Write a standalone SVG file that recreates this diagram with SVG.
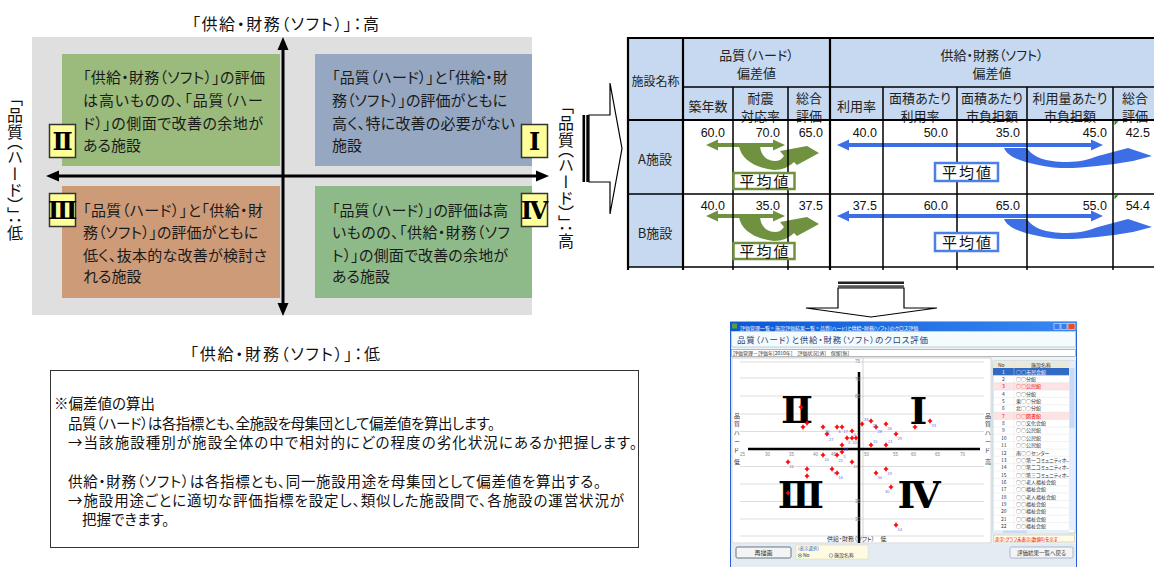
<svg xmlns="http://www.w3.org/2000/svg" width="1154" height="567" viewBox="0 0 1154 567">
<defs>
<style>
.jp{font-family:"Noto Sans CJK JP","Noto Sans CJK SC",sans-serif;font-feature-settings:"palt" 1;}
.q{font-size:15px;fill:#1a1a1a;}
.lbl{font-size:16px;fill:#111;}
.vert{writing-mode:vertical-rl;font-feature-settings:"vpal" 1;}
.rn{font-family:"DejaVu Serif","Liberation Serif",serif;font-weight:bold;fill:#000;text-anchor:middle;}
.th{font-size:13px;fill:#222;text-anchor:middle;}
.th12{font-size:12px;fill:#222;text-anchor:middle;}
.num{font-family:"Liberation Sans",Arial,sans-serif;font-size:12.5px;fill:#111;text-anchor:end;}
.tl{stroke:#000;stroke-width:1.5;fill:none;}
.tk{stroke:#000;stroke-width:2.2;fill:none;}
.hdr{fill:#c6d9f0;}
.avg{font-size:15px;fill:#111;text-anchor:middle;letter-spacing:2px;}
.rnbox{fill:#ffff99;stroke:#333;stroke-width:1.5;}
.note{font-size:14.5px;fill:#111;}
.t5{font-size:5px;fill:#333;}
.t6{font-size:6px;fill:#333;}
.grid{stroke:#d4d4d4;stroke-width:0.8;}
.tick{font-family:"Liberation Sans",sans-serif;font-size:4.5px;fill:#888;}
.plab{font-family:"Liberation Sans",sans-serif;font-size:4px;fill:#6a6ae0;}
.li{font-size:5px;fill:#333;}
.outline{fill:#fff;stroke:#000;stroke-width:1.2;}
</style>
<linearGradient id="tb" x1="0" y1="0" x2="1" y2="0">
<stop offset="0" stop-color="#0a58d6"/><stop offset="1" stop-color="#3a88f2"/>
</linearGradient>
<path id="pt" d="M-2.2,-0.8h1.4v-1.4h1.6v1.4h1.4v1.6h-1.4v1.4h-1.6v-1.4h-1.4z" fill="#f00"/>
<path id="gcurve" d="M739,146 L760,146 C761,156 767,161 775,161 C779,161 782,159 784,156 L780,151 L807,146 L819,153 L797,165 L794,162 C789,167 782,170 774,170 C755,168 741,159 739,146 Z"/>
<path id="bcurve" d="M1004,148 L1027,148 C1033,157 1045,162 1067,162 C1080,162 1090,159 1098,156 L1128,148 L1152,156 L1133,161 C1120,163 1108,165 1097,166 C1080,168 1060,169 1050,167 C1025,163 1008,158 1004,148 Z"/>
</defs>

<rect width="1154" height="567" fill="#fff"/>

<!-- quadrant diagram -->
<g id="quadrant-bg"><rect x="32" y="37" width="500" height="278" fill="#dfdfdf"/></g>

<g id="q2">
<rect x="62" y="54" width="218" height="112" fill="#9bbb7d"/>
<text class="jp q" x="83" y="83" textLength="182">「供給・財務（ソフト）」の評価</text>
<text class="jp q" x="83" y="106" textLength="180">は高いものの、「品質（ハー</text>
<text class="jp q" x="83" y="129" textLength="180">ド）」の側面で改善の余地が</text>
<text class="jp q" x="83" y="151">ある施設</text>
</g>
<g id="q1">
<rect x="315" y="54" width="217" height="112" fill="#95a7c1"/>
<text class="jp q" x="332" y="83" textLength="176">「品質（ハード）」と「供給・財</text>
<text class="jp q" x="332" y="106" textLength="175">務（ソフト）」の評価がともに</text>
<text class="jp q" x="332" y="129" textLength="183">高く、特に改善の必要がない</text>
<text class="jp q" x="332" y="151">施設</text>
</g>
<g id="q3">
<rect x="62" y="186" width="218" height="112" fill="#cd9b78"/>
<text class="jp q" x="83" y="215.5" textLength="180">「品質（ハード）」と「供給・財</text>
<text class="jp q" x="83" y="238" textLength="175">務（ソフト）」の評価がともに</text>
<text class="jp q" x="83" y="260.5" textLength="184">低く、抜本的な改善が検討さ</text>
<text class="jp q" x="83" y="282">れる施設</text>
</g>
<g id="q4">
<rect x="315" y="186" width="217" height="112" fill="#8eb988"/>
<text class="jp q" x="332" y="215.5" textLength="176">「品質（ハード）」の評価は高</text>
<text class="jp q" x="332" y="238" textLength="178">いものの、「供給・財務（ソフ</text>
<text class="jp q" x="332" y="260.5" textLength="176">ト）」の側面で改善の余地が</text>
<text class="jp q" x="332" y="282">ある施設</text>
</g>

<g id="connectors">
<!-- axes -->
<line x1="283" y1="48" x2="283" y2="305" stroke="#000" stroke-width="3"/>
<polygon points="283,37 277.5,50 288.5,50" fill="#000"/>
<polygon points="283,316 277.5,303 288.5,303" fill="#000"/>
<line x1="58" y1="176" x2="537" y2="176" stroke="#000" stroke-width="3"/>
<polygon points="46,176 59,170.5 59,181.5" fill="#000"/>
<polygon points="549,176 536,170.5 536,181.5" fill="#000"/>
<!-- striped right arrow -->
<rect x="582.5" y="115" width="2.6" height="67" fill="#000"/>
<rect x="586.3" y="115" width="2.6" height="67" fill="#000"/>
<path class="outline" d="M589,115 H610 V83 L622,148.5 L610,214 V182 H589 Z"/>
<!-- striped down arrow -->
<rect x="838" y="281.5" width="66" height="2.5" fill="#222"/>
<rect x="838" y="285.2" width="66" height="2.3" fill="#555"/>
<path class="outline" d="M838,288 V308 H806 L871,317 L937,308 H904 V288 Z"/>
<!-- green (hard) arrows -->
<g id="green-arrows" fill="#70913f">
<line x1="716" y1="145" x2="775" y2="145" stroke="#70913f" stroke-width="4"/>
<polygon points="706,145 718,139.5 718,150.5"/>
<polygon points="785,145 773,139.5 773,150.5"/>
<use href="#gcurve"/>
<g transform="translate(0,71)">
<line x1="716" y1="145" x2="775" y2="145" stroke="#70913f" stroke-width="4"/>
<polygon points="706,145 718,139.5 718,150.5"/>
<polygon points="785,145 773,139.5 773,150.5"/>
<use href="#gcurve"/>
</g>
</g>
<!-- blue (soft) arrows -->
<g id="blue-arrows" fill="#3c6fe6">
<line x1="848" y1="145" x2="1092" y2="145" stroke="#3c6fe6" stroke-width="4"/>
<polygon points="837,145 849,139.5 849,150.5"/>
<polygon points="1103,145 1091,139.5 1091,150.5"/>
<use href="#bcurve"/>
<g transform="translate(0,71)">
<line x1="848" y1="145" x2="1092" y2="145" stroke="#3c6fe6" stroke-width="4"/>
<polygon points="837,145 849,139.5 849,150.5"/>
<polygon points="1103,145 1091,139.5 1091,150.5"/>
<use href="#bcurve"/>
</g>
</g>
</g>

<g id="roman-labels">
<rect class="rnbox" x="49.5" y="124.5" width="26" height="33"/>
<text class="rn" x="62.5" y="149.5" font-size="24">Ⅱ</text>
<rect class="rnbox" x="49.5" y="193.5" width="26" height="33"/>
<text class="rn" x="62.5" y="218.5" font-size="24">Ⅲ</text>
<rect class="rnbox" x="521.5" y="124.5" width="26" height="33"/>
<text class="rn" x="534.5" y="149.5" font-size="24">Ⅰ</text>
<rect class="rnbox" x="521.5" y="193.5" width="26" height="33"/>
<text class="rn" x="534.5" y="218.5" font-size="24">Ⅳ</text>
</g>

<g id="axis-labels">
<text class="jp lbl" x="192" y="30" textLength="187">「供給・財務（ソフト）」：高</text>
<text class="jp lbl" x="190" y="360" textLength="190">「供給・財務（ソフト）」：低</text>
<text class="jp lbl vert" x="15" y="98" textLength="143">「品質（ハード）」：低</text>
<text class="jp lbl vert" x="566" y="106" textLength="143">「品質（ハード）」：高</text>
</g>

<!-- table -->
<g id="table">
<rect class="hdr" x="628" y="38" width="526" height="82"/>
<rect class="hdr" x="628" y="120" width="55" height="147"/>
<text class="jp th" x="756.5" y="60">品質（ハード）</text>
<text class="jp th" x="756.5" y="78">偏差値</text>
<text class="jp th" x="992" y="60">供給・財務（ソフト）</text>
<text class="jp th" x="992" y="78">偏差値</text>
<text class="jp th12" x="655.5" y="86">施設名称</text>
<text class="jp th" x="708" y="111">築年数</text>
<text class="jp th" x="760.5" y="103">耐震</text>
<text class="jp th" x="760.5" y="121">対応率</text>
<text class="jp th" x="809" y="103">総合</text>
<text class="jp th" x="809" y="121">評価</text>
<text class="jp th" x="856.5" y="111">利用率</text>
<text class="jp th" x="920" y="103">面積あたり</text>
<text class="jp th" x="920" y="121">利用率</text>
<text class="jp th" x="992" y="103">面積あたり</text>
<text class="jp th" x="992" y="121">市負担額</text>
<text class="jp th" x="1070" y="103">利用量あたり</text>
<text class="jp th" x="1070" y="121">市負担額</text>
<text class="jp th" x="1135" y="103">総合</text>
<text class="jp th" x="1135" y="121">評価</text>
<text class="jp th" x="655" y="164">A施設</text>
<text class="jp th" x="655" y="238">B施設</text>
<g class="num">
<text x="725" y="137">60.0</text><text x="780" y="137">70.0</text><text x="823" y="137">65.0</text><text x="877" y="137">40.0</text>
<text x="948" y="137">50.0</text><text x="1020" y="137">35.0</text><text x="1107" y="137">45.0</text><text x="1150" y="137">42.5</text>
<text x="725" y="210">40.0</text><text x="780" y="210">35.0</text><text x="823" y="210">37.5</text><text x="877" y="210">37.5</text>
<text x="948" y="210">60.0</text><text x="1020" y="210">65.0</text><text x="1107" y="210">55.0</text><text x="1150" y="210">54.4</text>
</g>
<path d="M1114.5,121.2 h4 l-4,4 z M1114.5,195.2 h4 l-4,4 z" fill="#1a8a1a"/>
<path class="tk" d="M628,38 H1154 M628,120 H1154 M628,37 V270 M683,38 V270 M830,38 V270"/>
<path class="tl" d="M683,87 H1154 M628,194 H1154 M628,267 H1154 M733,87 V270 M788,87 V270 M883,87 V270 M957,87 V270 M1027,87 V270 M1113,87 V270"/>
</g>

<g id="avg-labels">
<rect x="733.5" y="173" width="61" height="16" fill="#fff" stroke="#70913f" stroke-width="2.5"/>
<text class="jp avg" x="765" y="187">平均値</text>
<rect x="733.5" y="243" width="61" height="16" fill="#fff" stroke="#70913f" stroke-width="2.5"/>
<text class="jp avg" x="765" y="257">平均値</text>
<rect x="935" y="163" width="63" height="18" fill="#fff" stroke="#4d7fe8" stroke-width="2.5"/>
<text class="jp avg" x="967.5" y="178">平均値</text>
<rect x="935" y="233" width="63" height="18" fill="#fff" stroke="#4d7fe8" stroke-width="2.5"/>
<text class="jp avg" x="967.5" y="248">平均値</text>
</g>

<!-- note box -->
<g id="note">
<rect x="50.5" y="370.5" width="588" height="177" fill="#fff" stroke="#333" stroke-width="1"/>
<text class="jp note" x="54" y="409">※偏差値の算出</text>
<text class="jp note" x="68" y="429" textLength="427">品質（ハード）は各指標とも、全施設を母集団として偏差値を算出します。</text>
<text class="jp note" x="68" y="448" textLength="569">→当該施設種別が施設全体の中で相対的にどの程度の劣化状況にあるか把握します。</text>
<text class="jp note" x="68" y="487" textLength="533">供給・財務（ソフト）は各指標とも、同一施設用途を母集団として偏差値を算出する。</text>
<text class="jp note" x="68" y="506" textLength="556">→施設用途ごとに適切な評価指標を設定し、類似した施設間で、各施設の運営状況が</text>
<text class="jp note" x="82" y="525">把握できます。</text>
</g>

<!-- application screenshot -->
<g id="app-screenshot">
<rect x="730.5" y="322" width="346" height="246" fill="#eef3f8" stroke="#2a5fd0" stroke-width="1"/>
<rect x="730" y="322" width="347" height="9" fill="url(#tb)"/>
<rect x="732" y="323.5" width="5" height="5" fill="#5a9e3a"/>
<text class="jp" x="740" y="329.5" font-size="5" fill="#fff">評価管理一覧 &gt; 施設評価結果一覧 &gt; 品質(ハード)と供給・財務(ソフト)のクロス評価</text>
<rect x="1054" y="323.5" width="6" height="6" fill="#3d7be8" stroke="#fff" stroke-width="0.5"/>
<rect x="1061" y="323.5" width="6" height="6" fill="#3d7be8" stroke="#fff" stroke-width="0.5"/>
<rect x="1068" y="323.5" width="7" height="6" fill="#e0502a" stroke="#fff" stroke-width="0.5"/>
<rect x="731.5" y="331.5" width="344" height="15.5" fill="#f4fbfd" stroke="#9bb8c8" stroke-width="0.6"/>
<text class="jp" x="737" y="343" font-size="8.5" fill="#2d3d7a" textLength="191">品質（ハード）と供給・財務（ソフト）のクロス評価</text>
<rect x="731.5" y="349.5" width="344" height="7" fill="#fff" stroke="#777" stroke-width="0.5"/>
<text class="jp t5" x="733" y="355">評価管理－評価年[2010年]　評価状況[済]　保留[無]</text>
<rect x="732" y="358" width="259" height="185" fill="#fff" stroke="#aaa" stroke-width="0.5"/>
<path class="grid" d="M740,362H984 M740,378H984 M740,396H984 M740,414H984 M740,431.5H984 M740,466.5H984 M740,484H984 M740,501.5H984 M740,519H984 M740,536H984"/>
<line x1="863" y1="358" x2="863" y2="543" stroke="#bbb" stroke-width="0.6"/>
<line x1="748" y1="449" x2="980" y2="449" stroke="#000" stroke-width="2.5"/>
<line x1="859" y1="372" x2="859" y2="543" stroke="#000" stroke-width="2.5"/>
<g class="tick">
<text x="855" y="363">75</text><text x="855" y="381">70</text><text x="855" y="398">65</text>
<text x="855" y="503">35</text><text x="855" y="521">30</text>
<text x="740" y="456">25</text><text x="765" y="456">30</text><text x="789" y="456">35</text><text x="813" y="456">40</text><text x="831" y="456">45</text>
<text x="864" y="456">50</text><text x="893" y="456">55</text><text x="911" y="456">60</text><text x="935" y="456">65</text><text x="960" y="456">70</text>
</g>
<text class="rn" x="797" y="423" font-size="38">Ⅱ</text>
<text class="rn" x="918.5" y="424" font-size="38">Ⅰ</text>
<text class="rn" x="801" y="508" font-size="38">Ⅲ</text>
<text class="rn" x="919" y="508" font-size="38">Ⅳ</text>
<g id="points">
<use href="#pt" x="801" y="407"/><use href="#pt" x="807" y="423"/><use href="#pt" x="803" y="427"/><use href="#pt" x="823" y="427"/>
<use href="#pt" x="827" y="434"/><use href="#pt" x="837" y="427"/><use href="#pt" x="842" y="427"/><use href="#pt" x="852" y="431"/>
<use href="#pt" x="847" y="438"/><use href="#pt" x="852" y="438"/><use href="#pt" x="856" y="438"/><use href="#pt" x="842" y="445"/>
<use href="#pt" x="862" y="424"/><use href="#pt" x="871" y="421"/><use href="#pt" x="876" y="427"/><use href="#pt" x="886" y="424"/>
<use href="#pt" x="896" y="434"/><use href="#pt" x="871" y="445"/><use href="#pt" x="886" y="445"/><use href="#pt" x="915" y="427"/>
<use href="#pt" x="930" y="421"/><use href="#pt" x="823" y="455"/><use href="#pt" x="837" y="455"/><use href="#pt" x="842" y="452"/>
<use href="#pt" x="852" y="462"/><use href="#pt" x="788" y="462"/><use href="#pt" x="807" y="469"/><use href="#pt" x="807" y="476"/>
<use href="#pt" x="832" y="469"/><use href="#pt" x="837" y="473"/><use href="#pt" x="876" y="473"/><use href="#pt" x="886" y="469"/>
<use href="#pt" x="891" y="487"/><use href="#pt" x="896" y="525"/><use href="#pt" x="788" y="493"/>
</g>
<g class="plab">
<text x="825" y="433">36</text><text x="829" y="441">27</text><text x="838.5" y="433">6</text><text x="843.5" y="433">17</text>
<text x="853.5" y="436">4</text><text x="848" y="444">3</text><text x="852.5" y="444">20</text><text x="843.5" y="451">24</text>
<text x="864" y="421">33</text><text x="872.5" y="427">25</text><text x="877.5" y="433">28</text><text x="887.5" y="430">26</text>
<text x="897.5" y="440">29</text><text x="873" y="443">15</text><text x="888" y="443">21</text><text x="931.5" y="427">23</text>
<text x="824.5" y="461">10</text><text x="838.5" y="462">22</text><text x="843.5" y="458">5</text><text x="853.5" y="468">13</text>
<text x="789.5" y="468">11</text><text x="833.5" y="475">9</text><text x="838.5" y="479">16</text><text x="877.5" y="479">34</text>
<text x="887.5" y="475">19</text><text x="885" y="493">30</text><text x="897.5" y="531">14</text>
</g>
<g class="jp t6">
<text x="734" y="418">品</text><text x="734" y="426">質</text><text x="734" y="435">ハ</text><text x="734" y="444">ー</text><text x="734" y="452">ド</text><text x="734" y="464">低</text>
<text x="985" y="418">品</text><text x="985" y="426">質</text><text x="985" y="435">ハ</text><text x="985" y="444">ー</text><text x="985" y="452">ド</text><text x="985" y="464">高</text>
<text x="827" y="541">供給・財務（ソフト）　低</text>
</g>
<g id="facility-list">
<rect x="993" y="361" width="82" height="172" fill="#fff" stroke="#8aa" stroke-width="0.5"/>
<rect x="993" y="361" width="76" height="7" fill="#ece9d8"/>
<text class="jp li" x="998" y="366.5">No</text><text class="jp li" x="1041" y="366.5" text-anchor="middle">施設名称</text>
<rect x="993" y="368" width="76" height="7.36" fill="#316ac5"/>
<rect x="993" y="382.7" width="76" height="7.36" fill="#fde3e3"/>
<rect x="993" y="412.2" width="76" height="7.36" fill="#fde3e3"/>
<path d="M1014,361V530 M993,375.4H1069 M993,382.7H1069 M993,390.1H1069 M993,397.4H1069 M993,404.8H1069 M993,412.2H1069 M993,419.5H1069 M993,426.9H1069 M993,434.2H1069 M993,441.6H1069 M993,449H1069 M993,456.3H1069 M993,463.7H1069 M993,471H1069 M993,478.4H1069 M993,485.8H1069 M993,493.1H1069 M993,500.5H1069 M993,507.8H1069 M993,515.2H1069 M993,522.6H1069" stroke="#ddd" stroke-width="0.4"/>
<g class="jp li">
<text x="1002" y="373.5" fill="#fff">1</text><text x="1016" y="373.5" fill="#fff">○○市民会館</text>
<text x="1002" y="380.9">2</text><text x="1016" y="380.9">○○分館</text>
<text x="1002" y="388.2" fill="#e00">3</text><text x="1016" y="388.2" fill="#e00">○○公民館</text>
<text x="1002" y="395.6">4</text><text x="1016" y="395.6">○○分館</text>
<text x="1002" y="402.9">5</text><text x="1016" y="402.9">東○○分館</text>
<text x="1002" y="410.3">6</text><text x="1016" y="410.3">北○○分館</text>
<text x="1002" y="417.7" fill="#e00">7</text><text x="1016" y="417.7" fill="#e00">○○図書館</text>
<text x="1002" y="425">8</text><text x="1016" y="425">○○文化会館</text>
<text x="1002" y="432.4">9</text><text x="1016" y="432.4">○○公民館</text>
<text x="1001" y="439.7">10</text><text x="1016" y="439.7">○○公民館</text>
<text x="1001" y="447.1">11</text><text x="1016" y="447.1">○○公民館</text>
<text x="1001" y="454.5">12</text><text x="1016" y="454.5">南○○センター</text>
<text x="1001" y="461.8">13</text><text x="1016" y="461.8">○○第一コミュニティホ...</text>
<text x="1001" y="469.2">14</text><text x="1016" y="469.2">○○第二コミュニティホ...</text>
<text x="1001" y="476.5">15</text><text x="1016" y="476.5">○○第三コミュニティホ...</text>
<text x="1001" y="483.9">16</text><text x="1016" y="483.9">○○老人福祉会館</text>
<text x="1001" y="491.3">17</text><text x="1016" y="491.3">○○福祉会館</text>
<text x="1001" y="498.6">18</text><text x="1016" y="498.6">○○老人福祉会館</text>
<text x="1001" y="506">19</text><text x="1016" y="506">○○福祉会館</text>
<text x="1001" y="513.3">20</text><text x="1016" y="513.3">○○福祉会館</text>
<text x="1001" y="520.7">21</text><text x="1016" y="520.7">○○福祉会館</text>
<text x="1001" y="528">22</text><text x="1016" y="528">○○福祉会館</text>
</g>
<rect x="1069" y="361" width="6" height="169" fill="#e6eefa"/>
<rect x="1069.5" y="368" width="5" height="60" fill="#c9daf5"/>
<rect x="993" y="530" width="76" height="3.5" fill="#e6eefa"/>
<rect x="1003" y="530.5" width="24" height="2.5" fill="#c9daf5"/>
<rect x="993.5" y="535" width="81" height="7" fill="#fffbe6" stroke="#c8b87a" stroke-width="0.5"/>
<text class="jp" x="995" y="540.5" font-size="4.5" fill="#e00">赤字:グラフ未表示(数値0)を示す</text>
</g>
<rect x="731" y="543.5" width="345" height="23.5" fill="#e4ebf3"/>
<rect x="736" y="547" width="55" height="11" rx="1.5" fill="#f4f4f4" stroke="#345" stroke-width="0.7"/>
<text class="jp t6" x="763.5" y="554.8" text-anchor="middle">再描画</text>
<rect x="796" y="545" width="72" height="14" fill="#fffbe3" stroke="#e0d8a8" stroke-width="0.5"/>
<text class="jp" x="798" y="549.5" font-size="4.5" fill="#36c">(表示選択)</text>
<circle cx="800" cy="555.5" r="1.8" fill="#fff" stroke="#2a8a5a" stroke-width="0.6"/>
<circle cx="800" cy="555.5" r="0.8" fill="#2a8a5a"/>
<text class="jp t5" x="803" y="557.3">No</text>
<circle cx="831" cy="555.5" r="1.8" fill="#fff" stroke="#666" stroke-width="0.6"/>
<text class="jp t5" x="834" y="557.3">施設名称</text>
<rect x="1010" y="547" width="63" height="11" rx="1.5" fill="#f4f4f4" stroke="#8aa0c0" stroke-width="0.7"/>
<text class="jp" x="1041.5" y="554.8" font-size="5.5" fill="#333" text-anchor="middle">評価結果一覧へ戻る</text>
</g>
</svg>
